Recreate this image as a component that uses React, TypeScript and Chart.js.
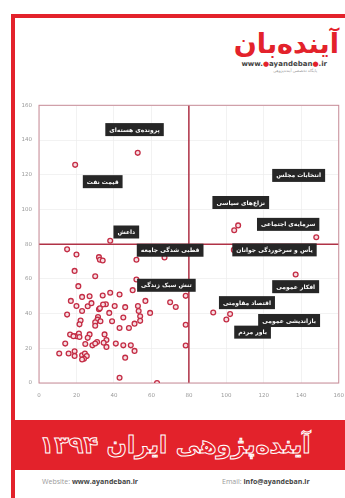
import React, { useEffect, useRef } from "react";
import { Chart, registerables } from "chart.js";

Chart.register(...registerables);

const xTicks = [0, 20, 40, 60, 80, 100, 120, 140, 160];
const yTicks = [0, 20, 40, 60, 80, 100, 120, 140, 160];

const pointX = [
  19.3, 52.7, 38, 104.2, 106.3, 148, 104, 137, 93, 102, 100, 78.3, 78.3, 78.3, 70, 73, 67, 63, 43,
  15, 20, 32, 32.5, 34, 52, 19, 30, 52, 21, 50, 38, 43, 17, 23, 27, 34, 20, 26, 28, 35.7, 34.2,
  32, 32.5, 37.5, 40.4, 46, 52.8, 53.2, 56.8, 59.3, 15, 23, 22.2, 21.6, 31.5, 31.2, 30, 32.8, 30,
  39, 45, 54, 54, 51, 48, 43, 16.6, 20, 21.3, 21.6, 27, 26, 35, 36, 31, 28.5, 24.7, 14, 36, 41,
  45, 49, 51, 10.8, 15.8, 19, 19, 23, 24.5, 25.5, 24, 23, 46, 18.4, 34.5, 30,
];
const pointY = [
  125.7, 132.6, 82, 88, 90.8, 84, 76.7, 62.5, 40.6, 39.7, 36.6, 50.2, 33.6, 21.6, 46.5, 43.8, 72.3, 0, 3,
  77, 74, 72.5, 71, 70.6, 71, 64.6, 61.5, 59.6, 55.8, 53.5, 52, 51, 47.3, 49.6, 50, 50.4, 44.4, 44.2, 46, 45.4, 45.2,
  42.5, 43, 40.4, 44.4, 43.7, 44.4, 41.5, 47.3, 40.4, 39.4, 41.5, 36, 33.8, 38, 36.5, 35, 35.6, 33,
  35.6, 37.7, 38.5, 35.8, 34.2, 31.7, 31.7, 27.9, 27, 28.5, 26.5, 28, 26, 28, 24.8, 23.6, 21.7, 22.5, 22.7, 20.8, 22.7,
  21.7, 21.7, 18.5, 17, 17, 18.3, 15.6, 16, 17, 15.5, 14, 13.5, 14.6, 27, 23.2, 22.8,
];

const labelTexts = [
  "پرونده‌ی هسته‌ای",
  "قیمت نفت",
  "داعش",
  "انتخابات مجلس",
  "نزاع‌های سیاسی",
  "سرمایه‌ی اجتماعی",
  "یأس و سرخوردگی جوانان",
  "قطبی شدگی جامعه",
  "تنش سبک زندگی",
  "افکار عمومی",
  "اقتصاد مقاومتی",
  "بازاندیشی عمومی",
  "باور مردم",
];
const labelX = [51, 34, 46.6, 138.6, 107.7, 133, 125.7, 70, 68, 137, 111, 133.5, 114];
const labelY = [146, 116, 87, 119.6, 104, 91.4, 76.7, 76.5, 56.3, 55.5, 46.3, 36, 29.3];

const RED = "#e3222b";

export default function App() {
  const ref = useRef<HTMLCanvasElement>(null);

  useEffect(() => {
    const prevMargin = document.body.style.margin;
    document.body.style.margin = "0";
    const canvas = ref.current;
    if (!canvas) return;

    const labelPlugin = {
      id: "boxLabels",
      beforeDatasetsDraw(chart: any) {
        const { ctx, chartArea, scales } = chart;
        ctx.save();
        ctx.strokeStyle = "#b03246";
        ctx.lineWidth = 1.5;
        const x80 = scales.x.getPixelForValue(80);
        const y80 = scales.y.getPixelForValue(80);
        ctx.beginPath();
        ctx.moveTo(x80, chartArea.top);
        ctx.lineTo(x80, chartArea.bottom);
        ctx.moveTo(chartArea.left, y80);
        ctx.lineTo(chartArea.right, y80);
        ctx.stroke();
        ctx.strokeStyle = "#c98c98";
        ctx.lineWidth = 1;
        ctx.strokeRect(chartArea.left, chartArea.top, chartArea.right - chartArea.left, chartArea.bottom - chartArea.top);
        ctx.restore();
      },
      afterDatasetsDraw(chart: any) {
        const { ctx, scales } = chart;
        ctx.save();
        ctx.font = "bold 6px 'DejaVu Sans'";
        ctx.textBaseline = "middle";
        ctx.textAlign = "center";
        (ctx as any).direction = "rtl";
        labelTexts.forEach((t, i) => {
          const cx = scales.x.getPixelForValue(labelX[i]);
          const cy = scales.y.getPixelForValue(labelY[i]);
          const w = ctx.measureText(t).width + 8;
          const h = 13;
          ctx.fillStyle = "#262626";
          ctx.fillRect(cx - w / 2, cy - h / 2, w, h);
          ctx.fillStyle = "#ffffff";
          ctx.fillText(t, cx, cy + 0.5);
        });
        ctx.restore();
      },
    };

    const chart = new Chart(canvas, {
      type: "scatter",
      data: {
        datasets: [
          {
            data: pointX.map((x, i) => ({ x, y: pointY[i] })),
            pointRadius: 2.4,
            pointBorderWidth: 1.3,
            pointBorderColor: "#c42d45",
            pointBackgroundColor: "#f6dde2",
          },
        ],
      },
      options: {
        animation: false,
        responsive: false,
        maintainAspectRatio: false,
        layout: { padding: { top: 10, right: 1, left: 0, bottom: 0 } },
        plugins: { legend: { display: false }, tooltip: { enabled: false } },
        scales: {
          x: {
            type: "linear",
            min: 0,
            max: 160,
            afterBuildTicks: (s: any) => {
              s.ticks = xTicks.map((v) => ({ value: v }));
            },
            afterFit: (s: any) => {
              s.height = 27;
            },
            grid: { color: "#ececec", lineWidth: 0.7, drawTicks: false },
            border: { display: false },
            ticks: { color: "#9a9a9a", font: { size: 5.5, family: "'DejaVu Sans'" }, padding: 9, maxRotation: 0 },
          },
          y: {
            type: "linear",
            min: 0,
            max: 160,
            afterBuildTicks: (s: any) => {
              s.ticks = yTicks.map((v) => ({ value: v }));
            },
            afterFit: (s: any) => {
              s.width = 39;
            },
            grid: { color: "#ececec", lineWidth: 0.7, drawTicks: false },
            border: { display: false },
            ticks: { color: "#9a9a9a", font: { size: 5.5, family: "'DejaVu Sans'" }, padding: 7 },
          },
        },
      },
      plugins: [labelPlugin],
    });
    return () => {
      chart.destroy();
      document.body.style.margin = prevMargin;
    };
  }, []);

  return (
    <div style={{ position: "absolute", left: 0, top: 0, width: 345, height: 498, background: "#fff", overflow: "hidden", fontFamily: "'DejaVu Sans', sans-serif" }}>
      <div style={{ position: "absolute", left: 11, top: 14, width: 345, height: 500, borderLeft: `4px solid ${RED}`, borderTop: `4px solid ${RED}` }} />
      <div style={{ position: "absolute", right: 6, top: 28, width: 100, textAlign: "right", direction: "rtl" }}>
        <div style={{ color: RED, fontWeight: "bold", fontSize: 27, lineHeight: "32px", letterSpacing: -2 }}>آینده‌بان</div>
        <div style={{ color: "#444", fontWeight: "bold", fontSize: 7, lineHeight: "8px", direction: "ltr", textAlign: "right", marginRight: 12 }}>
          www.<span style={{ color: RED }}>●</span>ayandeban<span style={{ color: RED }}>●</span>.ir
        </div>
        <div style={{ color: "#999", fontSize: 4, lineHeight: "6px", marginRight: 22 }}>پایگاه تخصصی آینده‌پژوهی</div>
      </div>
      <div style={{ position: "absolute", left: 0, top: 95, width: 353, height: 315 }}>
        <canvas ref={ref} width={353} height={315} style={{ width: 353, height: 315, display: "block" }} />
      </div>
      <div style={{ position: "absolute", left: 15, top: 420, width: 330, height: 50, background: RED }} />
      <div
        style={{
          position: "absolute",
          left: 15,
          top: 420,
          width: 320,
          height: 50,
          lineHeight: "50px",
          textAlign: "center",
          direction: "rtl",
          fontSize: 24,
          fontWeight: "bold",
          color: RED,
          WebkitTextStroke: "1px #ffffff",
        }}
      >
        آینده‌پژوهی ایران ۱۳۹۴
      </div>
      <div style={{ position: "absolute", left: 42, top: 477, fontSize: 7, color: "#9a9a9a", fontFamily: "'Open Sans', sans-serif" }}>
        Website: <span style={{ color: "#444", fontWeight: "bold" }}>www.ayandeban.ir</span>
      </div>
      <div style={{ position: "absolute", left: 222, top: 477, fontSize: 7, color: "#9a9a9a", fontFamily: "'Open Sans', sans-serif" }}>
        Email: <span style={{ color: "#444", fontWeight: "bold" }}>info@ayandeban.ir</span>
      </div>
    </div>
  );
}
